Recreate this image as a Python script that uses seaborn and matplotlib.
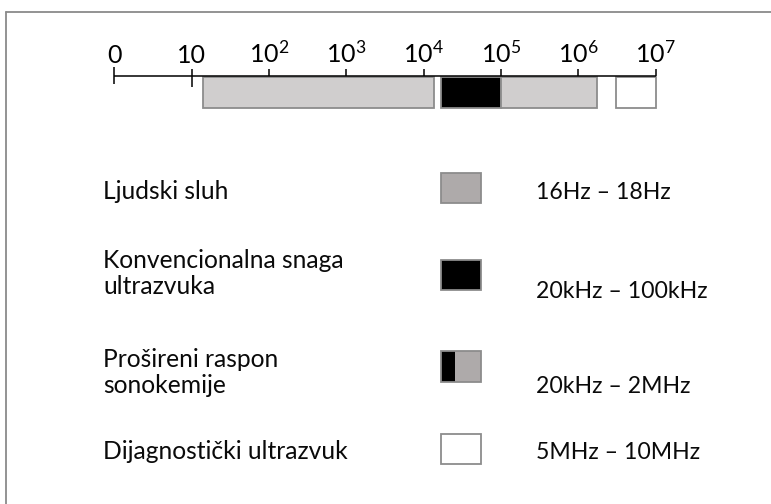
import matplotlib
matplotlib.use("Agg")
import matplotlib.pyplot as plt
import seaborn as sns
import pandas as pd

# ---- data ----
tick_values = [0, 1, 2, 3, 4, 5, 6, 7]
tick_labels = ["0", "10", r"$\mathregular{10^{2}}$", r"$\mathregular{10^{3}}$",
               r"$\mathregular{10^{4}}$", r"$\mathregular{10^{5}}$",
               r"$\mathregular{10^{6}}$", r"$\mathregular{10^{7}}$"]
band_start = [1.15, 4.22, 5.0, 6.49]
band_end = [4.13, 5.0, 6.24, 7.0]
band_colors = ["#D0CECE", "#000000", "#D0CECE", "#FFFFFF"]

legend_labels = ["Ljudski sluh", "Konvencionalna snaga\nultrazvuka",
                 "Prošireni raspon\nsonokemije", "Dijagnostički ultrazvuk"]
legend_ranges = ["16Hz – 18Hz", "20kHz – 100kHz", "20kHz – 2MHz", "5MHz – 10MHz"]

sns.set_theme(style="white")
plt.rcParams["font.family"] = ["Lato", "DejaVu Sans"]
plt.rcParams["mathtext.fontset"] = "custom"
plt.rcParams["mathtext.rm"] = "Lato"

W, H = 771, 504
fig = plt.figure(figsize=(W / 100, H / 100), dpi=100)

# pixel-coordinate overlay axes
pax = fig.add_axes([0, 0, 1, 1])
pax.set_xlim(0, W)
pax.set_ylim(H, 0)
pax.axis("off")

# scale axes: x in log10 units, y in pixels
x0, x7 = 114.3, 655.7
ppu = (x7 - x0) / 7
ax = fig.add_axes([0, 0, 1, 1], facecolor="none")
ax.set_xlim(-x0 / ppu, (W - x0) / ppu)
ax.set_ylim(H, 0)
ax.axis("off")

bands = pd.DataFrame({"start": band_start, "end": band_end, "color": band_colors})
edge = "#8C8C8C"
for _, r in bands.iterrows():
    ax.barh(92.5, r["end"] - r["start"], left=r["start"], height=31,
            color=r["color"], edgecolor=edge, linewidth=1.3, zorder=2)

ax.hlines(76, tick_values[0], tick_values[-1], color="black", lw=1.1, zorder=3)
for v, lab in zip(tick_values, tick_labels):
    if v == 0:
        y1, y2 = 67, 84
    elif v == 1:
        y1, y2 = 69, 87
    else:
        y1, y2 = 69, 76
    ax.vlines(v, y1, y2, color="black", lw=1.1, zorder=3)
    ax.text(v, 63, lab, ha="center", va="baseline", fontsize=18, color="black")

# frame lines
pax.plot([6, 6], [H, 11.5], color="#8A8A8A", lw=1.3)
pax.plot([6, W], [11.5, 11.5], color="#8A8A8A", lw=1.3)

# legend (baseline of last text line)
lab_base = [199, 294, 393, 459]
rng_base = [199, 298, 393, 459]
box_top = [172.5, 259.5, 351, 433.5]
box_h = 30.5
for i in range(4):
    pax.text(103, lab_base[i], legend_labels[i], ha="left", va="baseline",
             fontsize=17.7, color="#0A0A0A", linespacing=1.18)
    pax.text(536, rng_base[i], legend_ranges[i], ha="left", va="baseline",
             fontsize=16.6, color="#0A0A0A")

sw = [["#AEAAAA"], ["#000000"], ["#000000", "#AEAAAA"], ["#FFFFFF"]]
xa, xb, split = 440.5, 481, 455
for i, cols in enumerate(sw):
    if len(cols) == 1:
        pax.add_patch(plt.Rectangle((xa, box_top[i]), xb - xa, box_h,
                                    facecolor=cols[0], edgecolor=edge, lw=1.3))
    else:
        pax.add_patch(plt.Rectangle((xa, box_top[i]), split - xa, box_h,
                                    facecolor=cols[0], edgecolor="none"))
        pax.add_patch(plt.Rectangle((split, box_top[i]), xb - split, box_h,
                                    facecolor=cols[1], edgecolor="none"))
        pax.add_patch(plt.Rectangle((xa, box_top[i]), xb - xa, box_h,
                                    facecolor="none", edgecolor=edge, lw=1.3))

fig.savefig("out.png", dpi=100)
